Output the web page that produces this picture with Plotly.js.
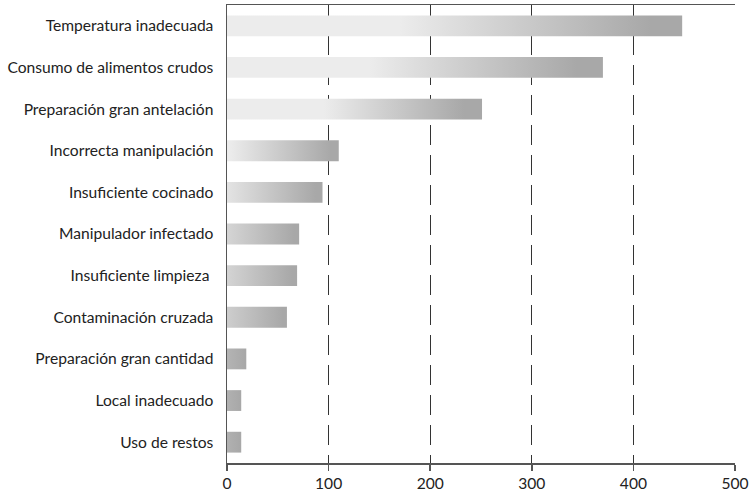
<!DOCTYPE html>
<html>
<head>
<meta charset="utf-8">
<script src="https://cdn.plot.ly/plotly-3.0.1.min.js"></script>
<style>html,body{margin:0;padding:0;background:#fff;}#chart{width:753px;height:492px;}</style>
</head>
<body>
<div id="chart"></div>
<script>
const categories = [
  "Temperatura inadecuada",
  "Consumo de alimentos crudos",
  "Preparación gran antelación",
  "Incorrecta manipulación",
  "Insuficiente cocinado",
  "Manipulador infectado",
  "Insuficiente limpieza ",
  "Contaminación cruzada",
  "Preparación gran cantidad",
  "Local inadecuado",
  "Uso de restos"
];
const values = [448, 370, 251, 110, 94, 71, 69, 59, 19, 14, 14];
const xTicks = [0, 100, 200, 300, 400, 500];

const half = 0.25;
const traces = values.map((v, i) => {
  const stop = 0.93 * v;
  const span = Math.max(100, 0.55 * v);
  return {
    type: 'scatter',
    mode: 'lines',
    x: [0, v, v, 0, 0],
    y: [i - half, i - half, i + half, i + half, i - half],
    fill: 'toself',
    line: {width: 0, color: 'rgba(0,0,0,0)'},
    fillgradient: {
      type: 'horizontal',
      start: stop - span,
      stop: stop,
      colorscale: [[0, '#ececec'], [1, '#a8a8a8']]
    },
    hoverinfo: 'skip',
    showlegend: false
  };
});

const layout = {
  width: 753, height: 492,
  margin: {l: 227, r: 18, t: 5, b: 29},
  paper_bgcolor: '#fff', plot_bgcolor: '#fff',
  font: {family: 'Lato, sans-serif', size: 15.6, color: '#222'},
  xaxis: {
    range: [0, 500],
    tickvals: xTicks,
    ticktext: xTicks.map(String),
    showgrid: true, gridcolor: '#333', gridwidth: 1.3, griddash: '20px,10px',
    zeroline: false,
    showline: true, linecolor: '#555', linewidth: 1.5, mirror: true,
    ticks: 'outside', ticklen: 6, tickcolor: '#555', tickwidth: 1.5,
    tickfont: {size: 15.6, color: '#222'}
  },
  yaxis: {
    range: [10.5, -0.5],
    tickvals: categories.map((c, i) => i),
    ticktext: categories,
    showgrid: false, zeroline: false,
    showline: true, linecolor: '#555', linewidth: 1.5,
    ticks: '', ticklabelstandoff: 9,
    tickfont: {size: 15.6, color: '#222'}
  }
};

Plotly.newPlot('chart', traces, layout, {staticPlot: true, displayModeBar: false});
</script>
</body>
</html>
